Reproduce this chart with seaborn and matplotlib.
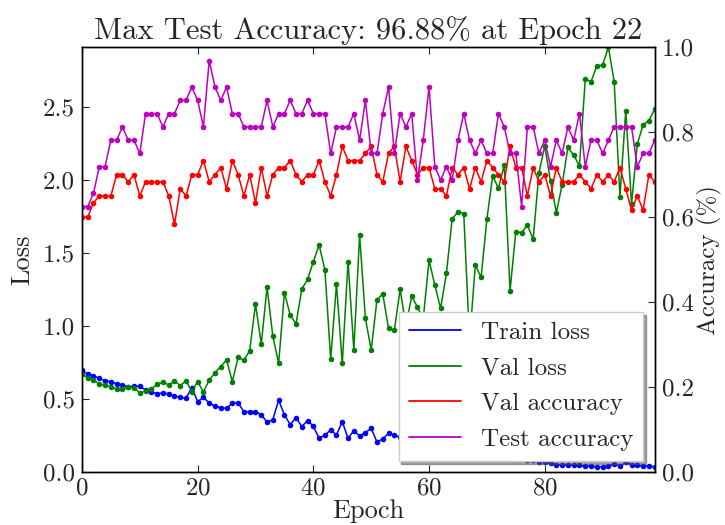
import matplotlib
matplotlib.use("Agg")
import matplotlib.pyplot as plt
from matplotlib.lines import Line2D
import pandas as pd
import seaborn as sns

epochs = list(range(100))

train_loss = [0.696, 0.673, 0.658, 0.642, 0.624, 0.619, 0.605, 0.596, 0.582, 0.587,
              0.587, 0.562, 0.550, 0.535, 0.543, 0.535, 0.520, 0.511, 0.505, 0.578,
              0.482, 0.511, 0.472, 0.450, 0.441, 0.435, 0.473, 0.473, 0.413, 0.413,
              0.413, 0.393, 0.342, 0.358, 0.493, 0.390, 0.325, 0.373, 0.311, 0.352,
              0.313, 0.230, 0.253, 0.288, 0.253, 0.345, 0.230, 0.283, 0.247, 0.270,
              0.299, 0.205, 0.226, 0.265, 0.250, 0.240, 0.260, 0.220, 0.210, 0.230,
              0.190, 0.200, 0.180, 0.170, 0.190, 0.160, 0.150, 0.160, 0.140, 0.130,
              0.140, 0.120, 0.110, 0.120, 0.100, 0.090, 0.100, 0.080, 0.080, 0.070,
              0.070, 0.060, 0.050, 0.050, 0.050, 0.045, 0.045, 0.040, 0.040, 0.035,
              0.035, 0.040, 0.055, 0.040, 0.065, 0.050, 0.045, 0.040, 0.040, 0.035]

val_loss = [0.670, 0.645, 0.630, 0.603, 0.596, 0.584, 0.566, 0.566, 0.580, 0.577,
            0.543, 0.553, 0.570, 0.600, 0.615, 0.596, 0.622, 0.592, 0.625, 0.550,
            0.619, 0.547, 0.630, 0.680, 0.722, 0.767, 0.619, 0.785, 0.765, 0.831,
            1.150, 0.875, 1.265, 0.930, 0.744, 1.228, 1.075, 1.014, 1.251, 1.320,
            1.440, 1.555, 1.384, 0.771, 1.288, 0.744, 1.440, 0.836, 1.623, 1.052,
            0.836, 1.180, 1.219, 0.984, 0.970, 1.250, 1.000, 1.205, 1.128, 1.050,
            1.450, 1.280, 1.120, 1.360, 1.735, 1.780, 1.770, 0.900, 1.418, 1.333,
            1.733, 2.027, 1.943, 2.103, 1.242, 1.646, 1.640, 1.690, 1.594, 2.050,
            2.233, 1.990, 1.776, 1.966, 2.223, 2.171, 2.096, 2.690, 2.674, 2.781,
            2.788, 2.909, 2.674, 1.886, 2.475, 1.836, 2.247, 2.377, 2.407, 2.484]

val_acc = [0.6, 0.6, 0.6333, 0.65, 0.65, 0.65, 0.7, 0.7, 0.6833, 0.7,
           0.65, 0.6833, 0.6833, 0.6833, 0.6833, 0.65, 0.5833, 0.6667, 0.65, 0.7,
           0.7, 0.7333, 0.6833, 0.7, 0.7167, 0.6667, 0.7333, 0.7, 0.65, 0.7,
           0.6333, 0.7167, 0.65, 0.7, 0.7167, 0.7167, 0.7333, 0.7, 0.6833, 0.7,
           0.7, 0.7333, 0.6833, 0.65, 0.7, 0.7667, 0.7333, 0.7333, 0.7333, 0.75,
           0.7667, 0.7, 0.6833, 0.75, 0.7667, 0.6833, 0.7667, 0.7333, 0.7, 0.7167,
           0.7167, 0.6667, 0.6667, 0.65, 0.7167, 0.7, 0.7167, 0.6667, 0.7167, 0.6833,
           0.7333, 0.7167, 0.7, 0.6833, 0.7667, 0.7167, 0.7167, 0.65, 0.7167, 0.6833,
           0.7, 0.65, 0.7167, 0.6833, 0.6833, 0.6833, 0.7, 0.6833, 0.6667, 0.7,
           0.6833, 0.7, 0.6833, 0.7167, 0.6667, 0.6167, 0.65, 0.6167, 0.7, 0.6833]

test_acc = [0.625, 0.625, 0.6562, 0.7188, 0.7188, 0.7812, 0.7812, 0.8125, 0.7812, 0.7812,
            0.75, 0.8438, 0.8438, 0.8438, 0.8125, 0.8438, 0.8438, 0.875, 0.875, 0.9062,
            0.875, 0.8125, 0.9688, 0.9062, 0.875, 0.9062, 0.8438, 0.8438, 0.8125, 0.8125,
            0.8125, 0.8125, 0.875, 0.8125, 0.8438, 0.8438, 0.875, 0.8438, 0.8438, 0.875,
            0.8438, 0.8438, 0.8438, 0.75, 0.8125, 0.8125, 0.8125, 0.8438, 0.7812, 0.875,
            0.75, 0.75, 0.8438, 0.9062, 0.75, 0.8438, 0.8125, 0.8438, 0.6875, 0.7812,
            0.9062, 0.7188, 0.6875, 0.7188, 0.6875, 0.7812, 0.8438, 0.7812, 0.75, 0.7812,
            0.75, 0.75, 0.8438, 0.8125, 0.75, 0.75, 0.625, 0.8125, 0.8125, 0.75,
            0.7812, 0.7188, 0.7812, 0.75, 0.8125, 0.7812, 0.8438, 0.7188, 0.7812, 0.7812,
            0.75, 0.7812, 0.8125, 0.8125, 0.8125, 0.8125, 0.7188, 0.75, 0.75, 0.7812]

labels = ["Train loss", "Val loss", "Val accuracy", "Test accuracy"]
colors = ["b", "g", "r", "m"]

df = pd.DataFrame({"epoch": epochs, "train_loss": train_loss, "val_loss": val_loss,
                   "val_acc": val_acc, "test_acc": test_acc})

sns.set_style("ticks", {"xtick.direction": "in", "ytick.direction": "in",
                        "axes.edgecolor": "black"})
plt.rcParams["font.family"] = ["cmr10", "DejaVu Serif"]
plt.rcParams["mathtext.fontset"] = "cm"
plt.rcParams["axes.formatter.use_mathtext"] = True
plt.rcParams["axes.unicode_minus"] = False

fig = plt.figure(figsize=(7.25, 5.25), dpi=100)
ax = fig.add_axes([0.113, 0.101, 0.79, 0.809])
ax2 = ax.twinx()

kw = dict(marker="o", markersize=4, markeredgewidth=0, linewidth=1.1, legend=False)
sns.lineplot(data=df, x="epoch", y="train_loss", color=colors[0], ax=ax, **kw)
sns.lineplot(data=df, x="epoch", y="val_loss", color=colors[1], ax=ax, **kw)
sns.lineplot(data=df, x="epoch", y="val_acc", color=colors[2], ax=ax2, **kw)
sns.lineplot(data=df, x="epoch", y="test_acc", color=colors[3], ax=ax2, **kw)

ax.set_xlim(0, 99)
ax.set_ylim(0, max(max(train_loss), max(val_loss)))
ax2.set_ylim(0, 1.0)
ax.set_xticks([0, 20, 40, 60, 80])
ax.set_yticks([0.0, 0.5, 1.0, 1.5, 2.0, 2.5])
ax2.set_yticks([0.0, 0.2, 0.4, 0.6, 0.8, 1.0])
ax.set_yticklabels(["0.0", "0.5", "1.0", "1.5", "2.0", "2.5"])
ax2.set_yticklabels(["0.0", "0.2", "0.4", "0.6", "0.8", "1.0"])

ax.tick_params(axis="x", which="both", top=True, direction="in", length=5, labelsize=18, pad=4)
ax.tick_params(axis="y", direction="in", length=5, labelsize=18, pad=5)
ax2.tick_params(axis="y", direction="in", length=5, labelsize=18, pad=5)
for a in (ax, ax2):
    for s in a.spines.values():
        s.set_color("black")
        s.set_linewidth(1.0)

ax.set_xlabel("Epoch", fontsize=19, labelpad=0)
ax.set_ylabel("Loss", fontsize=19, labelpad=6)
ax2.set_ylabel("Accuracy (%)", fontsize=18, labelpad=2)

best = max(test_acc)
best_ep = test_acc.index(best)
ax.set_title(f"Max Test Accuracy: {best * 100:.2f}% at Epoch {best_ep}", fontsize=22, pad=6)

handles = [Line2D([], [], color=c, linewidth=1.3) for c in colors]
leg = ax2.legend(handles, labels, loc="lower right", fontsize=18, shadow=True,
                 fancybox=False, framealpha=1, edgecolor="0.8", handlelength=2.1,
                 borderaxespad=0.45, labelspacing=0.52)

fig.savefig("out.png", dpi=100, facecolor="white")
